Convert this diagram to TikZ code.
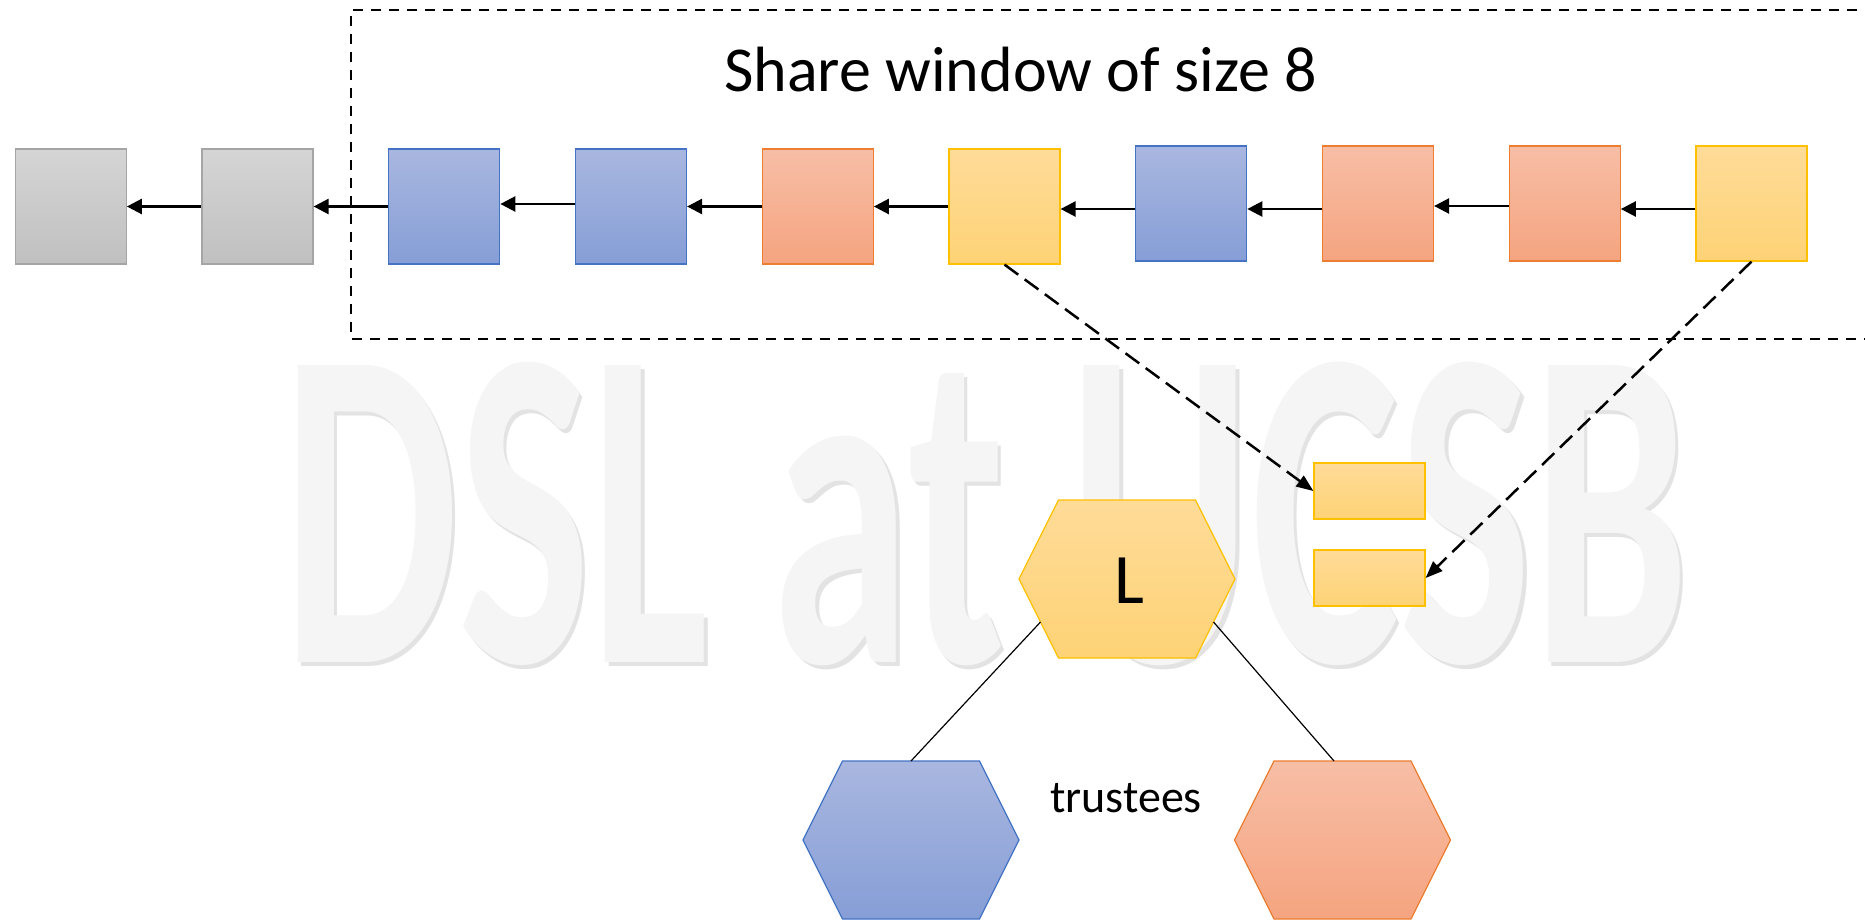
\documentclass[tikz,border=0pt]{standalone}
\usepackage{fontspec}
\usepackage{graphicx}
\setmainfont{Carlito}
\usetikzlibrary{arrows.meta}
\definecolor{bluetop}{RGB}{169,183,224}
\definecolor{bluebot}{RGB}{134,158,214}
\definecolor{blueline}{RGB}{68,114,196}
\definecolor{orgtop}{RGB}{247,190,166}
\definecolor{orgbot}{RGB}{245,164,128}
\definecolor{orgline}{RGB}{237,125,49}
\definecolor{yeltop}{RGB}{254,219,152}
\definecolor{yelbot}{RGB}{254,211,118}
\definecolor{yelline}{RGB}{255,192,0}
\definecolor{graytop}{RGB}{213,213,213}
\definecolor{graybot}{RGB}{192,192,192}
\definecolor{grayline}{RGB}{165,165,165}
\tikzset{
  blk/.style={minimum width=111pt,minimum height=115pt,inner sep=0pt,line width=1.2pt},
  gblk/.style={blk,draw=grayline,top color=graytop,bottom color=graybot},
  bblk/.style={blk,draw=blueline,top color=bluetop,bottom color=bluebot},
  oblk/.style={blk,draw=orgline,top color=orgtop,bottom color=orgbot},
  yblk/.style={blk,draw=yelline,top color=yeltop,bottom color=yelbot},
  yrect/.style={minimum width=111pt,minimum height=56pt,inner sep=0pt,line width=1.2pt,draw=yelline,top color=yeltop,bottom color=yelbot},
  bhex/.style={draw=blueline,line width=1.2pt,top color=bluetop,bottom color=bluebot},
  ohex/.style={draw=orgline,line width=1.2pt,top color=orgtop,bottom color=orgbot},
  yhex/.style={draw=yelline,line width=1.2pt,top color=yeltop,bottom color=yelbot},
  chainarrow/.style={line width=2.5pt,-{Triangle[length=15pt,width=15pt]}},
  ptrarrow/.style={line width=2.5pt,dash pattern=on 17pt off 8pt,-{Triangle[length=17pt,width=13pt]}},
  winframe/.style={line width=2.5pt,dash pattern=on 10pt off 8pt},
  tline/.style={line width=1.2pt,black},
  wmtext/.style={anchor=base,inner sep=0pt,font=\fontsize{280}{280}\selectfont\bfseries},
}
\newcommand\drawhex[4]{%
  \coordinate (#1) at (#2,#3);
  \path[#4] ({#2-108},{#3}) -- ({#2-68.5},{#3-79}) -- ({#2+68.5},{#3-79}) -- ({#2+108},{#3}) -- ({#2+68.5},{#3+79}) -- ({#2-68.5},{#3+79}) -- cycle;
  \coordinate (#1-ll) at ({#2-86.5},{#3+43});
  \coordinate (#1-lr) at ({#2+86.5},{#3+43});
  \coordinate (#1-top) at ({#2},{#3-79});
  \coordinate (#1-topl) at ({#2-8.5},{#3-79});
}
\begin{document}
\begin{tikzpicture}[x=1pt,y=-1pt]
\clip (0,0) rectangle (1865,920);
\fill[white] (0,0) rectangle (1865,920);
% watermark
\node[wmtext,text=black!11] (wmshadow) at (989,666) {\scalebox{1}[1.636]{DSL at UCSB}};
\node[wmtext,text=black!4] (wm) at (985.5,662) {\scalebox{1}[1.636]{DSL at UCSB}};
% window frame
\draw[winframe] (1875,10) -- (351,10) -- (351,339) -- (1875,339);
\node[anchor=base,font=\fontsize{64}{70}\selectfont] (title) at (1020.5,92) {Share window of size 8};
% chain blocks
\node[gblk] (g1) at (70.75,206.5) {};
\node[gblk] (g2) at (257.5,206.5) {};
\node[bblk] (b1) at (444.25,206.5) {};
\node[bblk] (b2) at (631,206.5) {};
\node[oblk] (o1) at (817.75,206.5) {};
\node[yblk] (y1) at (1004.5,206.5) {};
\node[bblk] (b3) at (1191.25,203.5) {};
\node[oblk] (o2) at (1378,203.5) {};
\node[oblk] (o3) at (1564.75,203.5) {};
\node[yblk] (y2) at (1751.5,203.5) {};
% chain arrows
\draw[chainarrow] (g2.west) -- (g2.west -| g1.east);
\draw[chainarrow] (b1.west) -- (b1.west -| g2.east);
\draw[chainarrow] ([yshift=2.5pt]b2.west) -- ([yshift=2.5pt]b2.west -| b1.east);
\draw[chainarrow] (o1.west) -- (o1.west -| b2.east);
\draw[chainarrow] (y1.west) -- (y1.west -| o1.east);
\draw[chainarrow] ([yshift=-5.5pt]b3.west) -- ([yshift=-5.5pt]b3.west -| y1.east);
\draw[chainarrow] ([yshift=-5.5pt]o2.west) -- ([yshift=-5.5pt]o2.west -| b3.east);
\draw[chainarrow] ([yshift=-2.5pt]o3.west) -- ([yshift=-2.5pt]o3.west -| o2.east);
\draw[chainarrow] ([yshift=-5.5pt]y2.west) -- ([yshift=-5.5pt]y2.west -| o3.east);
% shares
\node[yrect] (s1) at (1369.5,491) {};
\node[yrect] (s2) at (1369.5,578) {};
\draw[ptrarrow] (y1.south) -- (s1.west);
\draw[ptrarrow] (y2.south) -- (s2.east);
% hexagons
\drawhex{L}{1127}{579}{yhex}
\drawhex{B}{911}{840}{bhex}
\drawhex{O}{1342.5}{840}{ohex}
\node[anchor=base,font=\fontsize{71}{75}\selectfont] (Ltxt) at (1129,603) {L};
\draw[tline] (L-ll) -- (B-top);
\draw[tline] (L-lr) -- (O-topl);
\node[anchor=base,font=\fontsize{46}{50}\selectfont] (trust) at (1126,812) {trustees};
\end{tikzpicture}
\end{document}
